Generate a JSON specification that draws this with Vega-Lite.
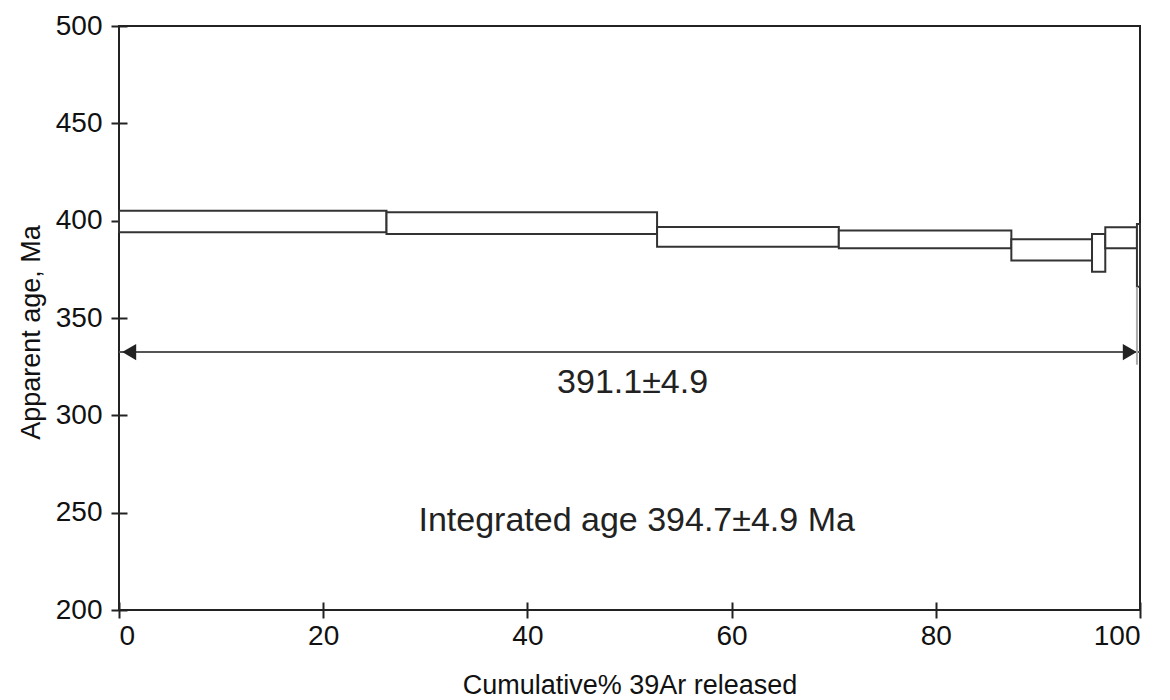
{
  "$schema": "https://vega.github.io/schema/vega-lite/v6.json",
  "width": 1021,
  "height": 584,
  "padding": {"left": 119, "top": 26, "right": 30, "bottom": 90},
  "autosize": {"type": "none"},
  "background": "white",
  "config": {
    "view": {"stroke": "#222", "strokeWidth": 2, "fill": null},
    "font": "Liberation Sans",
    "axis": {"domain": false, "zindex": 1, "tickColor": "#222", "tickWidth": 2, "labelColor": "#111", "titleColor": "#111", "grid": false, "labelFont": "Liberation Sans", "titleFont": "Liberation Sans", "titleFontWeight": "normal"}
  },
  "datasets": {
    "steps": [
      {"x1": 0, "x2": 26.2, "lo": 394.1, "hi": 405.1},
      {"x1": 26.2, "x2": 52.7, "lo": 393.1, "hi": 404.3},
      {"x1": 52.7, "x2": 70.5, "lo": 386.6, "hi": 396.7},
      {"x1": 70.5, "x2": 87.4, "lo": 385.8, "hi": 395.0},
      {"x1": 87.4, "x2": 95.3, "lo": 379.6, "hi": 390.5},
      {"x1": 95.3, "x2": 96.6, "lo": 373.8, "hi": 393.1},
      {"x1": 96.6, "x2": 99.7, "lo": 385.8, "hi": 396.6},
      {"x1": 99.7, "x2": 100, "lo": 366.0, "hi": 398.3}
    ],
    "arrow": [{"x1": 0, "x2": 100, "y": 332.5}],
    "heads": [
      {"x": 1.0, "y": 332.5, "dir": "left"},
      {"x": 99.0, "y": 332.5, "dir": "right"}
    ],
    "tail": [{"x": 99.7, "lo": 326, "hi": 366}],
    "labels": [
      {"x": 50.3, "y": 316.6, "text": "391.1±4.9"},
      {"x": 50.7, "y": 245.7, "text": "Integrated age 394.7±4.9 Ma"}
    ]
  },
  "layer": [
    {
      "data": {"name": "steps"},
      "mark": {"type": "rect", "fill": "white", "stroke": "#333", "strokeWidth": 2},
      "encoding": {
        "x": {"field": "x1", "type": "quantitative", "scale": {"domain": [0, 100], "nice": false},
          "axis": {"title": "Cumulative% 39Ar released", "values": [0, 20, 40, 60, 80, 100], "offset": -8, "tickSize": 16, "labelFontSize": 28, "titleFontSize": 27, "labelPadding": 4, "titlePadding": 22}},
        "x2": {"field": "x2"},
        "y": {"field": "lo", "type": "quantitative", "scale": {"domain": [200, 500], "nice": false},
          "axis": {"title": "Apparent age, Ma", "values": [200, 250, 300, 350, 400, 450, 500], "offset": -8, "tickSize": 16, "labelFontSize": 28, "titleFontSize": 27, "labelPadding": 9, "titlePadding": 10, "titleY": 306}},
        "y2": {"field": "hi"}
      }
    },
    {
      "data": {"name": "arrow"},
      "mark": {"type": "rule", "stroke": "#555", "strokeWidth": 2},
      "encoding": {
        "x": {"field": "x1", "type": "quantitative"},
        "x2": {"field": "x2"},
        "y": {"field": "y", "type": "quantitative"}
      }
    },
    {
      "data": {"name": "heads"},
      "mark": {"type": "point", "filled": true, "color": "#222", "opacity": 1, "size": 260},
      "encoding": {
        "x": {"field": "x", "type": "quantitative"},
        "y": {"field": "y", "type": "quantitative"},
        "shape": {"field": "dir", "type": "nominal", "scale": {"domain": ["left", "right"], "range": ["triangle-left", "triangle-right"]}, "legend": null}
      }
    },
    {
      "data": {"name": "tail"},
      "mark": {"type": "rule", "stroke": "#aaa", "strokeWidth": 2},
      "encoding": {
        "x": {"field": "x", "type": "quantitative"},
        "y": {"field": "lo", "type": "quantitative"},
        "y2": {"field": "hi"}
      }
    },
    {
      "data": {"name": "labels"},
      "mark": {"type": "text", "fontSize": 34, "color": "#222", "font": "Liberation Sans", "baseline": "middle", "align": "center"},
      "encoding": {
        "x": {"field": "x", "type": "quantitative"},
        "y": {"field": "y", "type": "quantitative"},
        "text": {"field": "text"}
      }
    }
  ]
}
